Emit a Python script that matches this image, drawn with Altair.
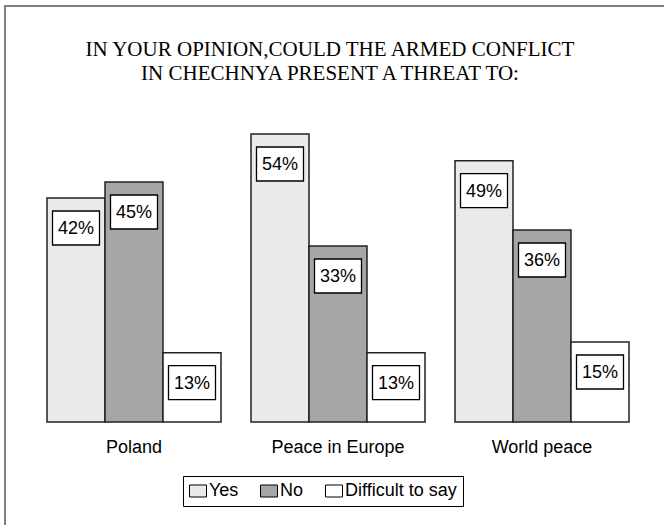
import altair as alt
import pandas as pd

# Survey answers, percent of respondents
categories = ["Poland", "Peace in Europe", "World peace"]
answers = ["Yes", "No", "Difficult to say"]
yes_values = [42, 54, 49]
no_values = [45, 33, 36]
difficult_values = [13, 13, 15]
answer_colors = ["#eaeaea", "#a6a6a6", "#ffffff"]
title_lines = [
    "IN YOUR OPINION,COULD THE ARMED CONFLICT",
    "IN CHECHNYA PRESENT A THREAT TO:",
]

rows = []
for series, vals in zip(answers, [yes_values, no_values, difficult_values]):
    for cat, v in zip(categories, vals):
        rows.append({"threat": cat, "answer": series, "value": v, "label": f"{v}%"})
df = pd.DataFrame(rows)

SANS = "Liberation Sans"
SERIF = "Liberation Serif"

x_enc = alt.X(
    "threat:N",
    sort=categories,
    scale=alt.Scale(paddingInner=30 / 204, paddingOuter=15 / 204),
    axis=alt.Axis(
        title=None, domain=False, ticks=False, grid=False, labelAngle=0,
        labelFont=SANS, labelFontSize=18, labelColor="black", labelPadding=16,
    ),
)
xoff_enc = alt.XOffset(
    "answer:N", sort=answers, scale=alt.Scale(paddingInner=0, paddingOuter=0)
)
y_enc = alt.Y("value:Q", scale=alt.Scale(domain=[0, 60]), axis=None)

base = alt.Chart(df)

bars = base.mark_bar(stroke="#222222", strokeWidth=1.5).encode(
    x=x_enc,
    xOffset=xoff_enc,
    y=y_enc,
    fill=alt.Fill(
        "answer:N",
        sort=answers,
        scale=alt.Scale(domain=answers, range=answer_colors),
        legend=alt.Legend(
            title=None,
            orient="none",
            legendX=151,
            legendY=374,
            direction="horizontal",
            symbolType="M-1,-0.706L1,-0.706L1,0.706L-1,0.706Z",
            symbolSize=289,
            symbolStrokeColor="black",
            symbolStrokeWidth=1,
            symbolOpacity=1,
            labelFont=SANS,
            labelFontSize=18,
            labelColor="black",
            labelOffset=2,
            columnPadding=19,
            padding=6,
            strokeColor="black",
            fillColor="white",
        ),
    ),
)

# white framed boxes holding the value labels
boxes = base.mark_point(
    shape="M-1,-0.723L1,-0.723L1,0.723L-1,0.723Z",
    size=2209,
    filled=True,
    fill="white",
    stroke="black",
    strokeWidth=1.3,
    opacity=1,
    yOffset=30,
).encode(x=x_enc, xOffset=xoff_enc, y=y_enc)

labels = base.mark_text(
    font=SANS, fontSize=18, color="black", baseline="middle", align="center", yOffset=31
).encode(x=x_enc, xOffset=xoff_enc, y=y_enc, text="label:N")

one_row = pd.DataFrame({"k": [0]})

# two-line heading above the bars
heading = alt.Chart(one_row).mark_text(
    font=SERIF, fontSize=21, color="black", align="center",
    baseline="alphabetic", lineHeight=24,
).encode(x=alt.value(298), y=alt.value(-46.5), text=alt.value(title_lines))

# gray frame lines along the top and left edges
frame_top = alt.Chart(one_row).mark_rule(color="#7f7f7f", strokeWidth=2).encode(
    x=alt.value(-27), x2=alt.value(640), y=alt.value(-96)
)
frame_left = alt.Chart(one_row).mark_rule(color="#7f7f7f", strokeWidth=2).encode(
    x=alt.value(-27), y=alt.value(-97), y2=alt.value(430)
)

chart = (
    alt.layer(bars, boxes, labels, heading, frame_top, frame_left)
    .properties(
        width=612,
        height=320,
        autosize="none",
        background="white",
        padding={"left": 32, "top": 102, "right": 20, "bottom": 103},
    )
    .configure_view(stroke="transparent")
)

chart.save("out.html", embed_options={"renderer": "svg", "actions": False})
